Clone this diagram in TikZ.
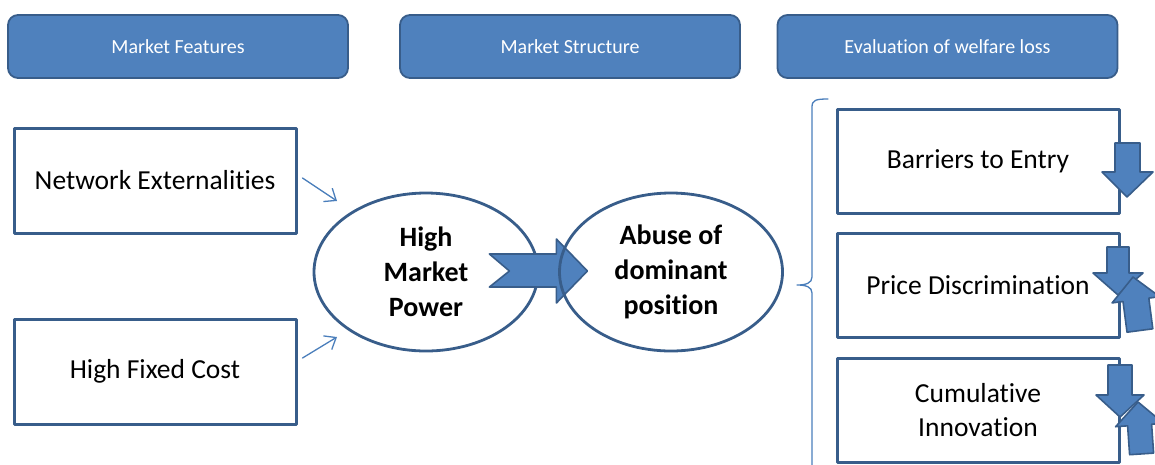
\documentclass[tikz,border=0pt]{standalone}
\usepackage{fontspec}
\setmainfont{Carlito}[RawFeature={-liga;-clig;-dlig;-calt}]
\usetikzlibrary{calc}
\usetikzlibrary{arrows.meta}

\begin{document}
\begin{tikzpicture}[line cap=round,line join=round,x=1pt,y=-1pt,
  hdr/.style={draw=ofborder,fill=ofblue,line width=1.8pt,rounded corners=10pt,minimum width=340pt,minimum height=63pt,text=white,font=\fontsize{20}{24}\selectfont},
  featbox/.style={draw=ofborder,fill=white,line width=3pt,minimum width=282pt,minimum height=105pt,font=\fontsize{27.5}{34}\selectfont,align=center},
  bubble/.style={ellipse,draw=ofborder,line width=2.8pt,minimum width=224pt,minimum height=158pt,inner sep=0pt,font=\bfseries\fontsize{28}{35}\selectfont,align=center},
  thinarr/.style={draw=ofline,line width=1.3pt,-{Straight Barb[length=10pt,width=16pt]}},
  blk/.style={draw=ofborder,fill=ofblue,line width=1.6pt}]
\usetikzlibrary{shapes.geometric}
\definecolor{ofblue}{rgb}{0.310,0.506,0.741}
\definecolor{ofborder}{rgb}{0.220,0.365,0.541}
\definecolor{ofline}{rgb}{0.290,0.494,0.733}

\useasboundingbox (0,0) rectangle (1155,464);
\clip (0,0) rectangle (1155,464);
% column headers
\node[hdr] (mf) at (178,46.5) {Market Features};
\node[hdr] (ms) at (570,46.5) {Market Structure};
\node[hdr] (ew) at (947.5,46.5) {Evaluation of welfare loss};
% market features
\node[featbox] (netext) at (155,180.5) {Network Externalities};
\node[featbox] (hfc) at (155,371.5) {High Fixed Cost};
\coordinate (ne-end) at (337,201);
\coordinate (hfc-end) at (337,337);
\draw[thinarr] ($(netext.east)+(5,-2.5)$) -- (ne-end);
\draw[thinarr] ($(hfc.east)+(5,-13.5)$) -- (hfc-end);
% market structure
\node[bubble,fill=white] (hmp) at (426,272) {High\\Market\\Power};
\draw[blk] ($(hmp.east)+(-50,-18)$) -- ++(67,0) -- ++(0,-15) -- ++(31,32) -- ++(-31,32) -- ++(0,-16) -- ++(-67,0) -- ++(20,-16) -- cycle;
\node[bubble,minimum width=223pt] (adp) at (671,272) {Abuse of\\dominant\\position};
% brace
\coordinate (cusp) at (797,285);
\draw[ofline,line width=1.3pt] (828,99) .. controls (816,99) and (812,100) .. (812,107) -- (812,277) .. controls (812,283) and (806,285) .. (cusp) .. controls (806,285) and (812,287) .. (812,293) -- (812,470);
% welfare loss
\node[featbox,minimum height=104pt] (bte) at (978,161) {Barriers to Entry};
\node[featbox,minimum height=104pt] (pd) at (978,285) {Price Discrimination};
\node[featbox,minimum height=104pt] (ci) at (978,410) {Cumulative\\Innovation};
\draw[blk] (1115,143) -- (1140,143) -- (1140,172) -- (1153,172) -- (1127,197) -- (1102,172) -- (1115,172) -- cycle;
\draw[blk] (1107,247) -- (1129,247) -- (1129,273) -- (1143,273) -- (1118,295) -- (1093,273) -- (1107,273) -- cycle;
\draw[blk] (1133,277) -- (1159.7,296.7) -- (1148.8,298.1) -- (1152.8,328.8) -- (1127,332.2) -- (1123,301.5) -- (1112.1,302.9) -- cycle;
\draw[blk] (1108,365) -- (1132,365) -- (1132,395) -- (1144,395) -- (1120,417) -- (1096,395) -- (1108,395) -- cycle;
\draw[blk] (1138,402) -- (1163.6,423.3) -- (1151.6,424.2) -- (1153.6,453.1) -- (1129.6,454.7) -- (1127.6,425.8) -- (1115.6,426.7) -- cycle;
\end{tikzpicture}
\end{document}
